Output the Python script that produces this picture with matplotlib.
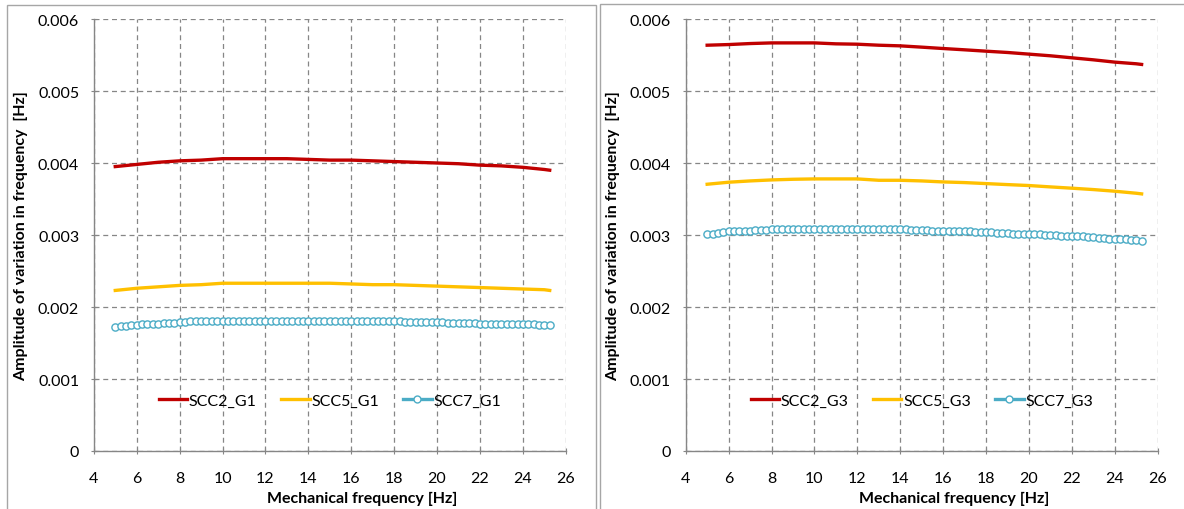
# coding=utf-8
import numpy as np
from matplotlib import pyplot as plt
from matplotlib.patches import Rectangle

plt.rcParams['font.family'] = ['Lato', 'DejaVu Sans']

# frequency points [Hz]
freq_line = [5, 6, 7, 8, 9, 10, 11, 12, 13, 14, 15, 16, 17, 18, 19, 20, 21, 22, 23, 24, 25, 25.25]
freq_dots = np.arange(5, 25.26, 0.25)

# G1 panel
scc2_g1 = [0.00395, 0.00398, 0.00401, 0.00403, 0.00404, 0.00406, 0.00406, 0.00406, 0.00406, 0.00405, 0.00404,
           0.00404, 0.00403, 0.00402, 0.00401, 0.00400, 0.00399, 0.00397, 0.00396, 0.00394, 0.00391, 0.00390]
scc5_g1 = [0.00223, 0.00226, 0.00228, 0.00230, 0.00231, 0.00233, 0.00233, 0.00233, 0.00233, 0.00233, 0.00233,
           0.00232, 0.00231, 0.00231, 0.00230, 0.00229, 0.00228, 0.00227, 0.00226, 0.00225, 0.00224, 0.00223]
scc7_g1 = ([1.72, 1.73, 1.74, 1.75, 1.75, 1.76, 1.76, 1.77, 1.77, 1.78, 1.78, 1.78]
           + [1.79, 1.79, 1.80, 1.80, 1.80, 1.80, 1.80, 1.80]
           + [1.81] * 22 + [1.80] * 12 + [1.79] * 8 + [1.78] * 6 + [1.77] * 8
           + [1.76, 1.76, 1.76, 1.75, 1.75, 1.75])

# G3 panel
scc2_g3 = [0.005636, 0.005645, 0.005659, 0.005668, 0.005668, 0.005668, 0.005655, 0.005650, 0.005636, 0.005627, 0.005609,
           0.005590, 0.005572, 0.005553, 0.005535, 0.005512, 0.005489, 0.005461, 0.005433, 0.005401, 0.005378, 0.005369]
scc5_g3 = [0.003705, 0.003733, 0.003751, 0.003765, 0.003774, 0.003779, 0.003779, 0.003779, 0.003760, 0.003760, 0.003751,
           0.003737, 0.003728, 0.003714, 0.003700, 0.003687, 0.003668, 0.003650, 0.003631, 0.003608, 0.003580, 0.003571]
scc7_g3 = ([3.01, 3.02, 3.03, 3.04, 3.05, 3.05, 3.06, 3.06, 3.06, 3.07, 3.07, 3.07, 3.08, 3.08, 3.08, 3.09]
           + [3.09] * 16
           + [3.08] * 4 + [3.09, 3.08] + [3.07] * 4 + [3.06] * 4 + [3.05] * 4 + [3.04] * 4
           + [3.03] * 3 + [3.02] * 3 + [3.01] * 3 + [3.00] * 3 + [2.99] * 3
           + [2.98, 2.98, 2.97, 2.97, 2.96, 2.96, 2.95, 2.95, 2.94, 2.94, 2.93, 2.93, 2.92])

scc7_g1 = np.array(scc7_g1) / 1000
scc7_g3 = np.array(scc7_g3) / 1000

xticks = list(range(4, 27, 2))
yticks = [0, 0.001, 0.002, 0.003, 0.004, 0.005, 0.006]
ytick_labels = ["0", "0.001", "0.002", "0.003", "0.004", "0.005", "0.006"]

red = "#C00000"
yellow = "#FFC000"
cyan = "#4BACC6"
grey = "#868686"

fig = plt.figure(figsize=(11.84, 5.10), dpi=100)

# panel frames
fig.patches.append(Rectangle((7 / 1184, -0.05), 589 / 1184, 1.0 - 6 / 510 + 0.05,
                             transform=fig.transFigure, fill=False, edgecolor="#a6a6a6", lw=1))
fig.patches.append(Rectangle((600 / 1184, -0.05), 590 / 1184, 1.0 - 5 / 510 + 0.05,
                             transform=fig.transFigure, fill=False, edgecolor="#a6a6a6", lw=1))

panels = [
    (93.8, scc2_g1, scc5_g1, scc7_g1, "G1"),
    (685.7, scc2_g3, scc5_g3, scc7_g3, "G3"),
]

for x0, s2, s5, s7, tag in panels:
    ax = fig.add_axes([x0 / 1184, 58 / 510, 472 / 1184, 432 / 510])
    ax.plot(freq_line, s2, color=red, lw=2.4, label="SCC2_" + tag, zorder=3)
    ax.plot(freq_line, s5, color=yellow, lw=2.4, label="SCC5_" + tag, zorder=3)
    ax.plot(freq_dots, s7, color=cyan, lw=2.4, ls="none", marker="o", ms=5.2, mew=1.0,
            mfc="white", mec=cyan, label="SCC7_" + tag, zorder=3)

    ax.set_xlim(4, 26)
    ax.set_ylim(0, 0.006)
    ax.set_xticks(xticks)
    ax.set_yticks(yticks)
    ax.set_yticklabels(ytick_labels)
    ax.grid(True, color=grey, ls=(0, (4, 3)), lw=0.9)
    ax.set_axisbelow(True)
    for s in ["top", "right"]:
        ax.spines[s].set_visible(False)
    for s in ["left", "bottom"]:
        ax.spines[s].set_color(grey)
        ax.spines[s].set_linewidth(1.0)
    ax.tick_params(axis="both", direction="inout", length=5, color=grey, labelsize=11.5)
    ax.tick_params(axis="x", pad=12)
    ax.tick_params(axis="y", pad=8)

    ax.set_xlabel("Mechanical frequency [Hz]", fontsize=11.5, fontweight="bold")
    ax.xaxis.set_label_coords(0.568, -0.093)
    ax.set_ylabel("Amplitude of variation in frequency  [Hz]", fontsize=11.5, fontweight="bold", labelpad=7)

    # legend with a line through the marker for SCC7
    h, l = ax.get_legend_handles_labels()
    h[2], = ax.plot([], [], color=cyan, lw=2.4, marker="o", ms=5, mew=1.0, mfc="white", mec=cyan)
    ax.legend(h, l, loc="center", bbox_to_anchor=(0.5, 0.116), ncol=3, frameon=False,
              fontsize=11.5, handlelength=1.8, columnspacing=1.5, handletextpad=0.1)

plt.savefig("out.png", dpi=100)
